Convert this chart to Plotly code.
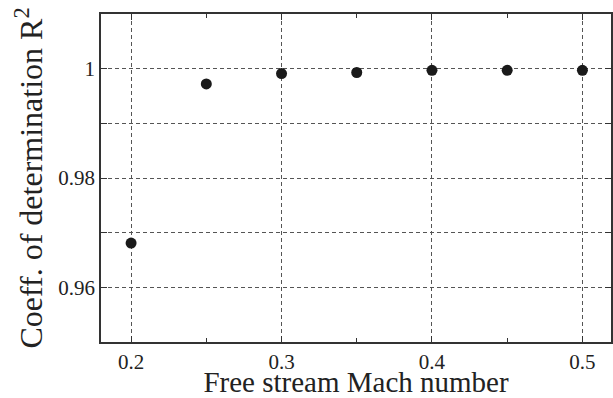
import plotly.graph_objects as go

mach = [0.2, 0.25, 0.3, 0.35, 0.4, 0.45, 0.5]
r2 = [0.9681, 0.9972, 0.9991, 0.9993, 0.9997, 0.9997, 0.9997]

x_title = "Free stream Mach number"
y_title = "Coeff. of determination R<sup>2</sup>"

font_family = "Liberation Serif, Times New Roman, serif"
axis_col = "#333333"
grid_col = "#555555"
text_col = "#222222"

fig = go.Figure()
fig.add_trace(go.Scatter(
    x=mach, y=r2, mode="markers",
    marker=dict(color="#1a1a1a", size=11),
    showlegend=False,
))

fig.update_layout(
    width=613, height=398,
    margin=dict(l=101, r=0, t=14, b=54),
    paper_bgcolor="white", plot_bgcolor="white",
    font=dict(family=font_family, color=text_col),
)

fig.update_xaxes(
    range=[0.18, 0.519],
    tickvals=[0.2, 0.3, 0.4, 0.5],
    ticktext=["0.2", "0.3", "0.4", "0.5"],
    ticks="inside", ticklen=6, tickcolor=axis_col, tickwidth=1,
    minor=dict(tickvals=[0.25, 0.35, 0.45], ticks="inside", ticklen=4,
               tickcolor=axis_col, showgrid=False),
    showline=True, linecolor=axis_col, linewidth=1.5, mirror="allticks",
    showgrid=True, gridcolor=grid_col, gridwidth=1, griddash="4px,3px",
    zeroline=False,
    tickfont=dict(size=21, family=font_family, color=text_col),
    title=dict(text=x_title, font=dict(size=29, family=font_family, color=text_col), standoff=4),
)

fig.update_yaxes(
    range=[0.95, 1.01],
    tickvals=[0.96, 0.98, 1.0],
    ticktext=["0.96", "0.98", "1"],
    ticks="inside", ticklen=6, tickcolor=axis_col, tickwidth=1,
    minor=dict(tickvals=[0.97, 0.99], ticks="inside", ticklen=6,
               tickcolor=axis_col, showgrid=True, gridcolor=grid_col,
               gridwidth=1, griddash="4px,3px"),
    showline=True, linecolor=axis_col, linewidth=1.5, mirror="allticks",
    showgrid=True, gridcolor=grid_col, gridwidth=1, griddash="4px,3px",
    zeroline=False,
    tickfont=dict(size=21, family=font_family, color=text_col),
    title=dict(text=y_title, font=dict(size=32, family=font_family, color=text_col), standoff=6),
)

fig.write_html("out.html")
